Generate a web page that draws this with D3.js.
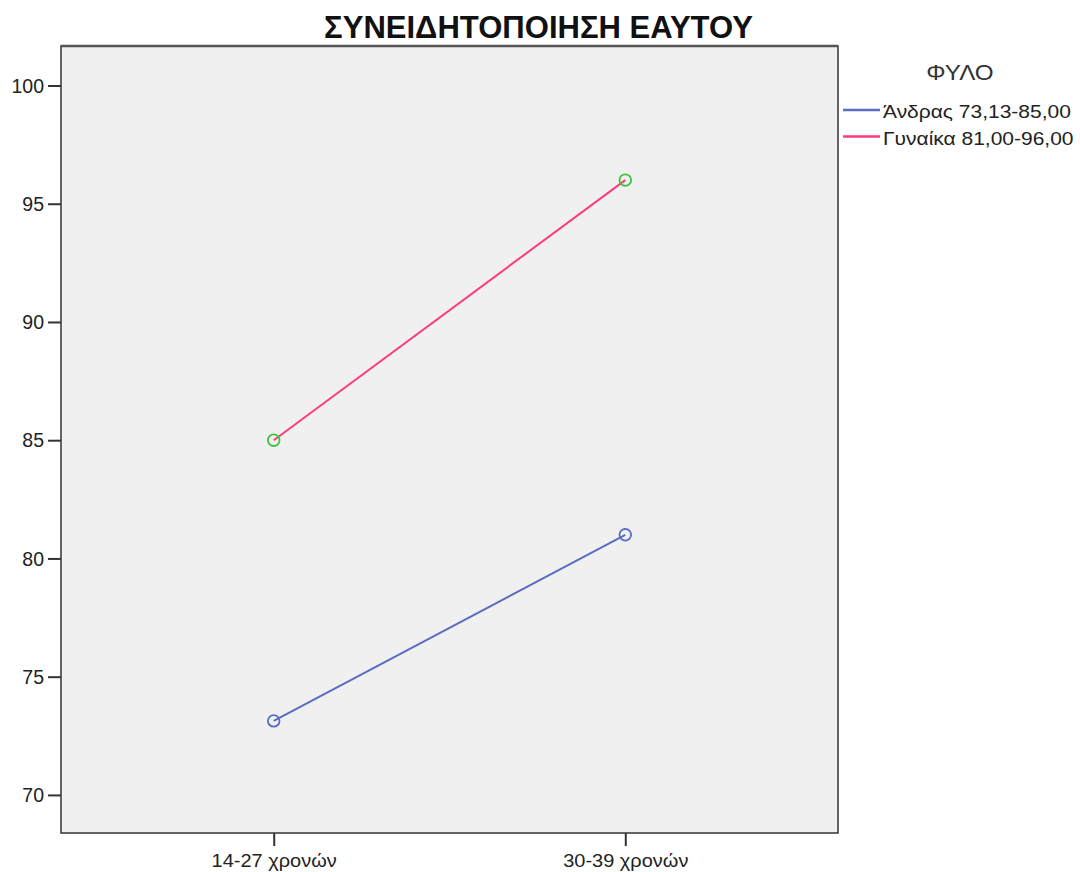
<!DOCTYPE html>
<html><head><meta charset="utf-8">
<script src="https://cdn.jsdelivr.net/npm/d3@7"></script>
<style>body{margin:0;background:#fff}</style>
</head><body>
<svg id="c" width="1080" height="872"></svg>
<script>
const categories = ["14-27 χρονών", "30-39 χρονών"];
const seriesNames = ["Άνδρας 73,13-85,00", "Γυναίκα 81,00-96,00"];
const maleValues = [73.13, 81.00];
const femaleValues = [85.00, 96.00];
const yTicks = [70, 75, 80, 85, 90, 95, 100];
const lineColors = ["#5a6dbf", "#ff3b7f"];
const markerColors = ["#5a6dbf", "#3cc440"];

const svg = d3.select("#c");
const L = 61, R = 838, T = 46, B = 833;
const font = "'Liberation Sans',Arial,sans-serif";

const x = d3.scalePoint().domain(categories).range([L, R]).padding(0.605);
const y = d3.scaleLinear().domain([68.39, 101.67]).range([B, T]);

svg.append("rect").attr("x", L).attr("y", T).attr("width", R - L).attr("height", B - T)
  .attr("fill", "#f0f0f0").attr("stroke", "#333").attr("stroke-width", 1.5);
svg.append("line").attr("x1", L).attr("x2", R).attr("y1", T).attr("y2", T).attr("stroke", "#555").attr("stroke-width", 2.5);

const ySx = 0.93;
const yAxis = svg.append("g").attr("transform", `translate(${L},0)`)
  .call(d3.axisLeft(y).tickValues(yTicks).tickSize(13).tickPadding(4));
yAxis.select(".domain").remove();
yAxis.selectAll("line").attr("stroke", "#333").attr("stroke-width", 2);
yAxis.selectAll("text").attr("font-family", font).attr("font-size", 21).attr("fill", "#222")
  .attr("x", -17 / ySx).attr("transform", `scale(${ySx},1)`);

const xSx = 1.08;
const xAxis = svg.append("g").attr("transform", `translate(0,${B})`)
  .call(d3.axisBottom(x).tickSize(13).tickPadding(8));
xAxis.select(".domain").remove();
xAxis.selectAll("line").attr("stroke", "#333").attr("stroke-width", 2);
xAxis.selectAll("text").attr("font-family", font).attr("font-size", 18.5).attr("fill", "#222")
  .attr("transform", `scale(${xSx},1)`);

const series = [maleValues, femaleValues];
const line = d3.line().x((d, i) => x(categories[i])).y(d => y(d));
series.forEach((vals, s) => {
  svg.append("path").datum(vals).attr("d", line).attr("fill", "none")
    .attr("stroke", lineColors[s]).attr("stroke-width", 2);
  svg.selectAll(".m" + s).data(vals).enter().append("circle")
    .attr("cx", (d, i) => x(categories[i])).attr("cy", d => y(d)).attr("r", 5.8)
    .attr("fill", "none").attr("stroke", markerColors[s]).attr("stroke-width", 1.8);
});

svg.append("text").attr("transform", "translate(538.5,38) scale(0.97,1)").attr("text-anchor", "middle")
  .attr("font-family", font).attr("font-weight", "bold").attr("font-size", 32).attr("fill", "#111")
  .text("ΣΥΝΕΙΔΗΤΟΠΟΙΗΣΗ ΕΑΥΤΟΥ");

svg.append("text").attr("transform", "translate(960,80) scale(1.1,1)").attr("text-anchor", "middle")
  .attr("font-family", font).attr("font-size", 22).attr("fill", "#333").text("ΦΥΛΟ");

seriesNames.forEach((n, i) => {
  const yy = 110 + i * 26.5;
  svg.append("line").attr("x1", 843).attr("x2", 880).attr("y1", yy).attr("y2", yy)
    .attr("stroke", lineColors[i]).attr("stroke-width", 2.5);
  svg.append("text").attr("transform", `translate(883,${yy + 8}) scale(1.2,1)`).attr("font-family", font)
    .attr("font-size", 17.5).attr("fill", "#222").text(n);
});
</script>
</body></html>
